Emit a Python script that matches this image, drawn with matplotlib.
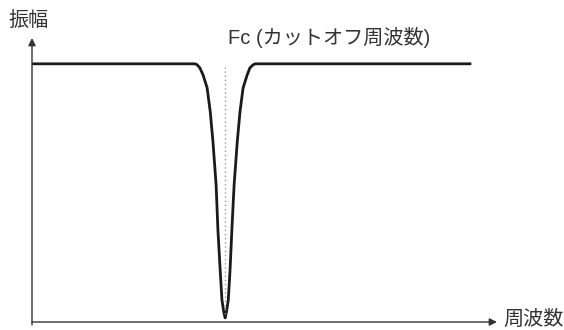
import matplotlib.pyplot as plt

plt.rcParams['font.family'] = ['Liberation Sans', 'Noto Sans CJK JP', 'DejaVu Sans']

# notch response
freq = [0, 36.2, 36.7, 37.3, 38.0, 38.9, 39.6, 40.2, 40.9, 41.3, 41.8, 42.2, 42.6, 42.9,
        43.2, 43.6, 44.0, 44.4, 44.9, 45.6, 46.2, 46.9, 47.8, 48.4, 49.1, 49.6, 97.6]
amp = [1.0, 1.0, 0.996, 0.984, 0.957, 0.907, 0.814, 0.698, 0.531, 0.357, 0.202, 0.085, 0.039, 0.016,
       0.039, 0.085, 0.202, 0.357, 0.531, 0.698, 0.814, 0.907, 0.957, 0.984, 0.996, 1.0, 1.0]
fc = 42.9
fc_label = 'Fc (カットオフ周波数)'
x_label = '周波数'
y_label = '振幅'

fig = plt.figure(figsize=(5.64, 3.30), dpi=100)
ax = fig.add_axes([32 / 564, 8 / 330, 465 / 564, 284 / 330])
ax.set_xlim(0, 103.3)
ax.set_ylim(0, 1.10)
ax.axis('off')

ax.plot(freq, amp, color='#1a1a1a', lw=2.0, solid_joinstyle='round', solid_capstyle='butt')
ax.vlines(fc, 0.03, 1.0, colors='#999999', linestyles=(0, (1, 2)), lw=1)

# axes with arrow heads
arrow = dict(arrowstyle='-|>', color='#333333', lw=1, mutation_scale=11, shrinkA=0, shrinkB=0)
ax.annotate('', xy=(1, 0), xytext=(0, 0), xycoords='axes fraction', arrowprops=arrow)
ax.annotate('', xy=(0, 1), xytext=(0, -0.01), xycoords='axes fraction', arrowprops=arrow)

ax.text(1.013, 0.01, x_label, transform=ax.transAxes, ha='left', va='center',
        fontsize=14.5, color='#333333')
ax.text(-0.05, 1.06, y_label, transform=ax.transAxes, ha='left', va='center',
        fontsize=14.5, color='#333333', clip_on=False)
ax.text(fc + 0.6, 1.10, fc_label, ha='left', va='center', fontsize=14.5,
        color='#333333', clip_on=False)

fig.savefig('out.png', dpi=100)
